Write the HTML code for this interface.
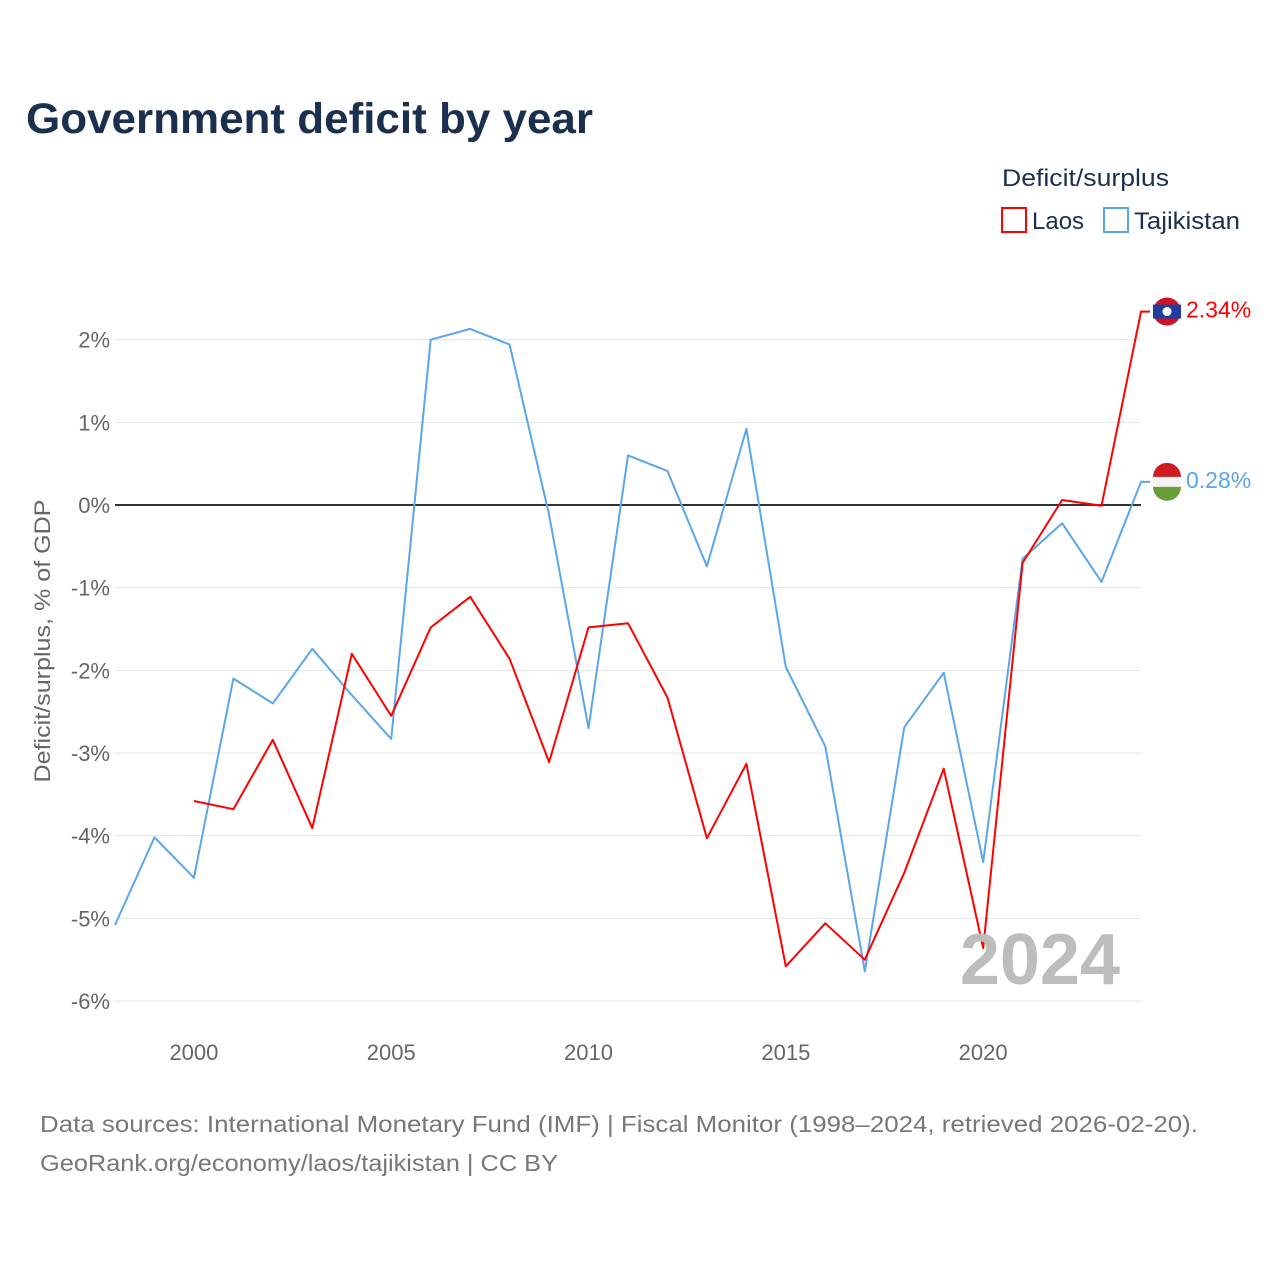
<!DOCTYPE html>
<html><head><meta charset="utf-8"><style>
body{margin:0;background:#fff;font-family:"Liberation Sans",sans-serif;}
</style></head><body>
<svg width="1280" height="1280" viewBox="0 0 1280 1280" xmlns="http://www.w3.org/2000/svg">
<text x="26" y="133" font-size="43" font-weight="bold" fill="#1b2f4e" textLength="567" lengthAdjust="spacingAndGlyphs">Government deficit by year</text>
<text x="1002" y="186" font-size="24" fill="#1b2f4e" textLength="167" lengthAdjust="spacingAndGlyphs">Deficit/surplus</text>
<g><rect x="1002" y="208" width="24" height="24" fill="none" stroke="#f00" stroke-width="2"/><text x="1032" y="229" font-size="24" fill="#1b2f4e">Laos</text></g>
<g><rect x="1104" y="208" width="24" height="24" fill="none" stroke="#5aa6ea" stroke-width="2"/><text x="1134" y="229" font-size="24" fill="#1b2f4e" textLength="106" lengthAdjust="spacingAndGlyphs">Tajikistan</text></g>
<g id="grid"></g>
<g id="marks"></g>
<text x="1120" y="984" font-size="72" font-weight="bold" fill="#bdbdbd" text-anchor="end">2024</text>
<text transform="translate(50,641) rotate(-90)" font-size="22" fill="#666" text-anchor="middle" textLength="283" lengthAdjust="spacingAndGlyphs">Deficit/surplus, % of GDP</text>
<text x="40" y="1132" font-size="23" fill="#777" textLength="1158" lengthAdjust="spacingAndGlyphs">Data sources: International Monetary Fund (IMF) | Fiscal Monitor (1998–2024, retrieved 2026-02-20).</text>
<text x="40" y="1171" font-size="23" fill="#777" textLength="518" lengthAdjust="spacingAndGlyphs">GeoRank.org/economy/laos/tajikistan | CC BY</text>
</svg>
<script>
const years=[1998,1999,2000,2001,2002,2003,2004,2005,2006,2007,2008,2009,2010,2011,2012,2013,2014,2015,2016,2017,2018,2019,2020,2021,2022,2023,2024];
const tajikistan=[-5.08,-4.02,-4.51,-2.10,-2.40,-1.74,-2.30,-2.83,2.0,2.13,1.94,-0.12,-2.70,0.60,0.41,-0.74,0.92,-1.96,-2.92,-5.64,-2.69,-2.03,-4.32,-0.65,-0.22,-0.93,0.28];
const laos=[null,null,-3.58,-3.68,-2.84,-3.91,-1.80,-2.55,-1.48,-1.11,-1.86,-3.11,-1.48,-1.43,-2.33,-4.03,-3.13,-5.58,-5.06,-5.50,-4.45,-3.19,-5.36,-0.70,0.06,-0.01,2.34];
const yTicks=[2,1,0,-1,-2,-3,-4,-5,-6];
const xTicks=[2000,2005,2010,2015,2020];
const NS='http://www.w3.org/2000/svg';
const X=y=>115+(y-1998)*(1141-115)/26;
const Y=v=>505-v*82.67;
function mk(tag,attrs,parent){const e=document.createElementNS(NS,tag);for(const k in attrs)e.setAttribute(k,attrs[k]);parent.appendChild(e);return e;}
const grid=document.getElementById('grid'),marks=document.getElementById('marks');
yTicks.forEach(v=>{
 const l=mk('line',{x1:115,x2:1141,y1:Y(v),y2:Y(v),stroke:v===0?'#333':'#e6e6e6','stroke-width':v===0?2:1},grid);
 
 
 const t=mk('text',{x:110,y:Y(v)+8,'font-size':22,fill:'#666','text-anchor':'end'},grid);t.textContent=v+'%';
 
 
});
xTicks.forEach(yr=>{
 const t=mk('text',{x:X(yr),y:1060,'font-size':22,fill:'#666','text-anchor':'middle'},grid);t.textContent=yr;
 
 
});
function series(vals,color,name,flag){
 const pts=[];vals.forEach((v,i)=>{if(v!==null)pts.push(X(years[i]).toFixed(1)+','+Y(v).toFixed(1));});
 const last=vals[vals.length-1];
 pts.push('1150,'+Y(last).toFixed(1));
 const p=mk('polyline',{points:pts.join(' '),fill:'none',stroke:color,'stroke-width':2,'stroke-linejoin':'round'},marks);
 
 
 const g=mk('g',{},marks);
 
 
 const cy=Y(last);
 flag(g,cy);
 const t=mk('text',{x:1186,y:cy+6,'font-size':23,fill:color},marks);
 t.textContent=last.toFixed(2)+'%';
 
 
}
series(tajikistan,'#5aa6ea','tajikistan',(g,cy)=>{
 mk('circle',{cx:1167,cy:cy,r:14,fill:'#f4f4f4'},g);
 mk('path',{d:`M1153,${cy-5} A14,14 0 0 1 1181,${cy-5} Z`,fill:'#d01c1f'},g);
 mk('path',{d:`M1153,${cy+5} A14,14 0 0 0 1181,${cy+5} Z`,fill:'#6a9e3a'},g);
});
series(laos,'#f00','laos',(g,cy)=>{
 mk('circle',{cx:1167,cy:cy,r:14,fill:'#ce1126'},g);
 mk('rect',{x:1153,y:cy-7,width:28,height:14,fill:'#1e3fa0'},g);
 mk('circle',{cx:1167,cy:cy,r:4.5,fill:'#fff'},g);
});
</script>
</body></html>
